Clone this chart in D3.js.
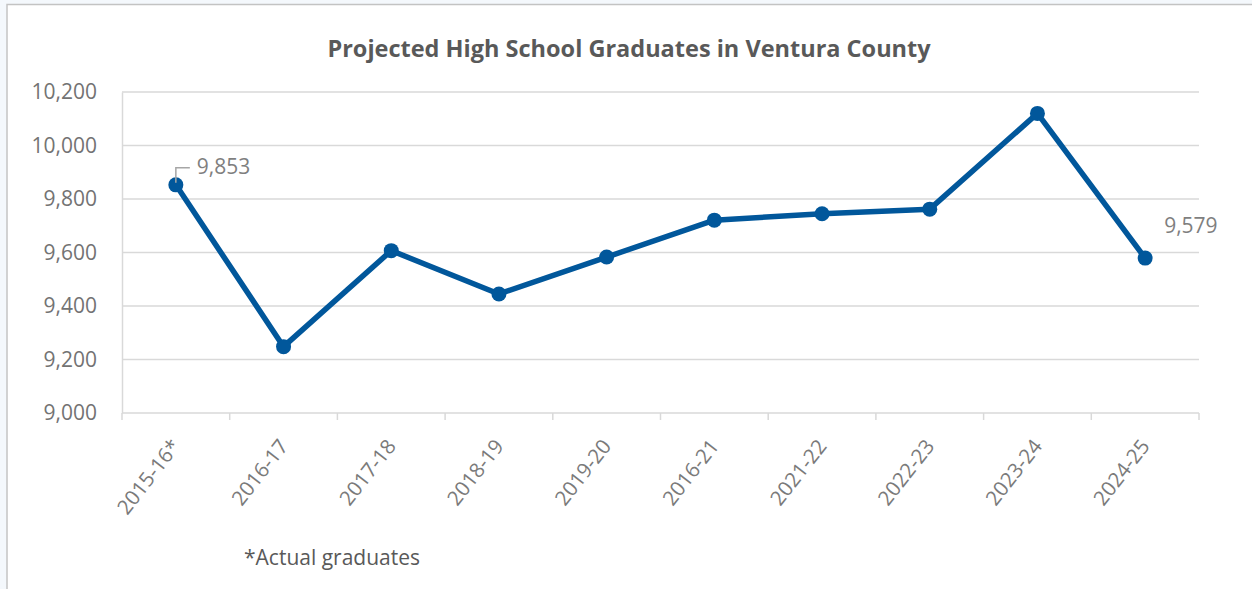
<!DOCTYPE html>
<html>
<head>
<meta charset="utf-8">
<script src="https://cdn.jsdelivr.net/npm/d3@7"></script>
<style>
  body { margin: 0; background: #f4f8fc; }
  svg { display: block; font-family: "Open Sans", sans-serif; }
</style>
</head>
<body>
<script>
// chart data
var years = ["2015-16*", "2016-17", "2017-18", "2018-19", "2019-20", "2016-21", "2021-22", "2022-23", "2023-24", "2024-25"];
var graduates = [9853, 9248, 9607, 9445, 9583, 9721, 9745, 9762, 10120, 9579];
var yTicks = [9000, 9200, 9400, 9600, 9800, 10000, 10200];

var width = 1252, height = 589;
var svg = d3.select("body").append("svg")
  .attr("width", width)
  .attr("height", height);

// chart frame
svg.append("rect")
  .attr("x", 7).attr("y", 4.5)
  .attr("width", width).attr("height", height)
  .attr("fill", "#fff")
  .attr("stroke", "#c3c3c3")
  .attr("stroke-width", 1.5);

var margin = {left: 122, right: 1199, top: 92, bottom: 413};

var x = d3.scaleBand().domain(years).range([margin.left, margin.right]);
var y = d3.scaleLinear().domain([9000, 10200]).range([margin.bottom, margin.top]);

// title
svg.append("text")
  .attr("x", 629).attr("y", 57)
  .attr("text-anchor", "middle")
  .attr("font-size", 23.5).attr("font-weight", "bold")
  .attr("fill", "#595959")
  .text("Projected High School Graduates in Ventura County");

// gridlines
svg.append("g").selectAll("line").data(yTicks.slice(1)).join("line")
  .attr("x1", margin.left).attr("x2", margin.right)
  .attr("y1", d => y(d)).attr("y2", d => y(d))
  .attr("stroke", "#d9d9d9").attr("stroke-width", 1.5);

// y axis
var yAxis = svg.append("g")
  .attr("transform", "translate(" + margin.left + ",0)")
  .call(d3.axisLeft(y).tickValues(yTicks).tickFormat(d3.format(",")).tickSize(0).tickPadding(25));
yAxis.select(".domain").attr("stroke", "#d9d9d9").attr("stroke-width", 1.5);
yAxis.selectAll("text").attr("font-size", 21).attr("fill", "#737373").attr("font-family", "Open Sans");

// x axis
var xTickPos = d3.range(years.length + 1).map(i => margin.left + i * x.step());
svg.append("line")
  .attr("x1", margin.left).attr("x2", margin.right)
  .attr("y1", y(9000)).attr("y2", y(9000))
  .attr("stroke", "#d9d9d9").attr("stroke-width", 1.5);
svg.append("g").selectAll("line").data(xTickPos).join("line")
  .attr("x1", d => d).attr("x2", d => d)
  .attr("y1", y(9000)).attr("y2", y(9000) + 7)
  .attr("stroke", "#d9d9d9").attr("stroke-width", 1.5);

svg.append("g").selectAll("text").data(years).join("text")
  .attr("transform", d => "translate(" + (x(d) + x.bandwidth() / 2) + "," + (y(9000) + 29) + ") rotate(-52)")
  .attr("text-anchor", "end")
  .attr("dy", "0.35em")
  .attr("font-size", 20.5)
  .attr("fill", "#7a7a7a")
  .text(d => d);

// line + markers
var cx = d => x(d) + x.bandwidth() / 2;
var pts = years.map((d, i) => [cx(d), y(graduates[i])]);

svg.append("path")
  .datum(pts)
  .attr("d", d3.line())
  .attr("fill", "none")
  .attr("stroke", "#01579b")
  .attr("stroke-width", 5.5)
  .attr("stroke-linejoin", "round");

svg.append("g").selectAll("circle").data(pts).join("circle")
  .attr("cx", d => d[0]).attr("cy", d => d[1])
  .attr("r", 7.5)
  .attr("fill", "#01579b");

// data labels
var first = pts[0], last = pts[pts.length - 1];
svg.append("path")
  .attr("d", "M" + first[0] + "," + (first[1] - 2) + "V" + (first[1] - 17) + "H" + (first[0] + 14))
  .attr("fill", "none")
  .attr("stroke", "#a6a6a6")
  .attr("stroke-width", 1.5);
svg.append("text")
  .attr("x", first[0] + 21).attr("y", first[1] - 11)
  .attr("font-size", 21).attr("fill", "#7f7f7f")
  .text(d3.format(",")(graduates[0]));
svg.append("text")
  .attr("x", last[0] + 19).attr("y", last[1] - 25)
  .attr("font-size", 21).attr("fill", "#7f7f7f")
  .text(d3.format(",")(graduates[graduates.length - 1]));

// footnote
svg.append("text")
  .attr("x", 244).attr("y", 565)
  .attr("font-size", 21).attr("fill", "#595959")
  .text("*Actual graduates");
</script>
</body>
</html>
